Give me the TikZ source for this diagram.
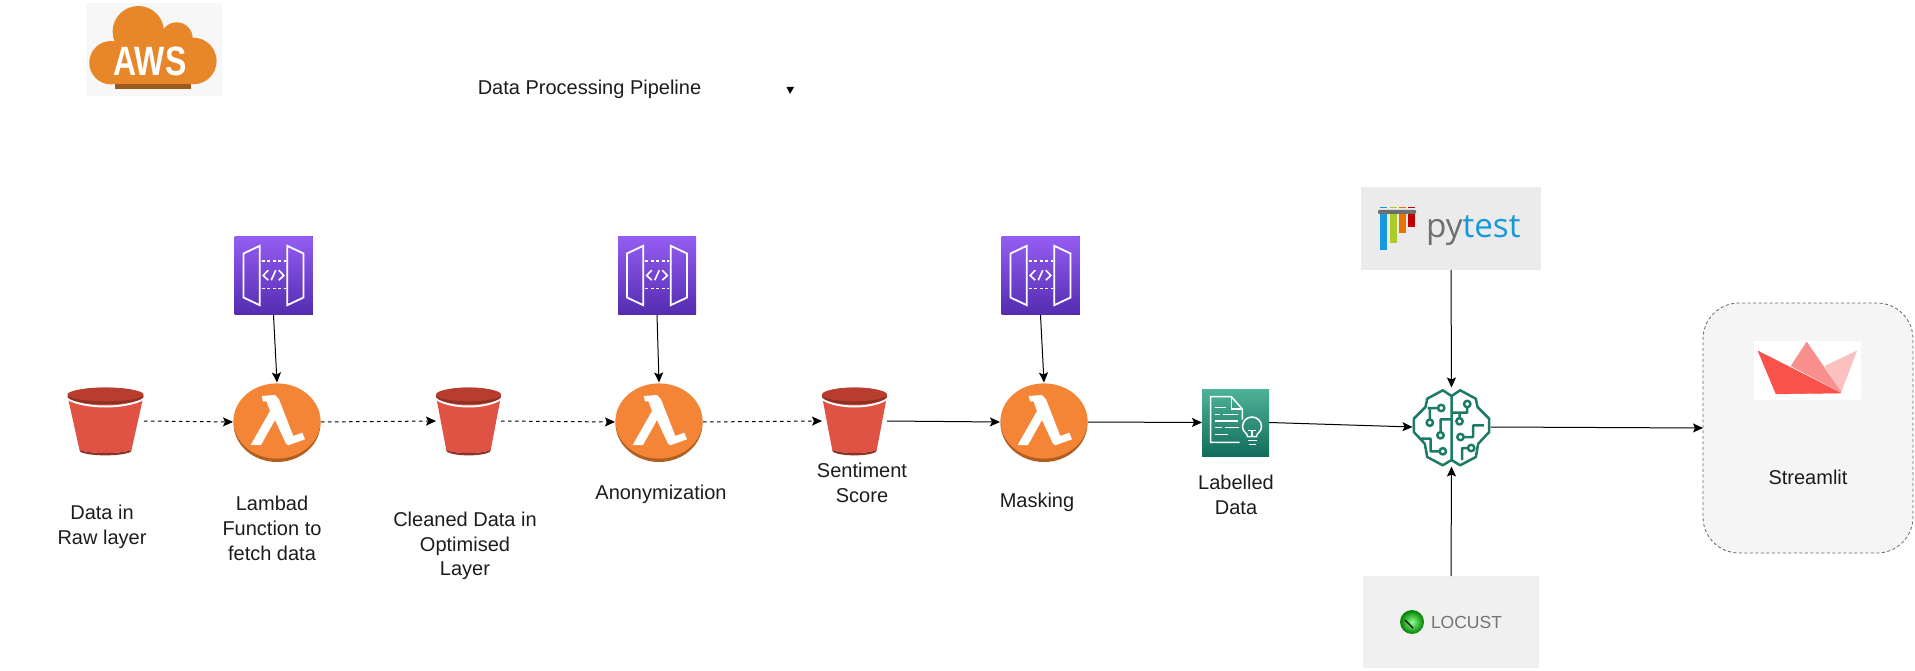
\documentclass[tikz,border=0pt]{standalone}
\usepackage{fontspec}
\setmainfont{Liberation Sans}
\newfontfamily\logofont{Open Sans}
\usetikzlibrary{arrows.meta}

\definecolor{inkgray}{HTML}{1C1C1C}
\definecolor{awsorange}{HTML}{E8862A}
\definecolor{awsbrown}{HTML}{9C5A1C}
\definecolor{bucketred}{HTML}{E05243}
\definecolor{bucketdark}{HTML}{8C3123}
\definecolor{buckettop}{HTML}{B83D2F}
\definecolor{lambdaorange}{HTML}{F58536}
\definecolor{lambdadark}{HTML}{B05F20}
\definecolor{mlgreen}{HTML}{1B7B67}
\definecolor{pyblue}{HTML}{149ADC}
\definecolor{pygray}{HTML}{6F6F6F}

\tikzset{
	labeltext/.style={font=\fontsize{20}{24.8}\selectfont, align=center, text=inkgray, inner sep=0pt},
	bucketbox/.style={inner sep=0pt, outer sep=0pt, minimum width=#1, minimum height=67pt},
	lambdabox/.style={inner sep=0pt, outer sep=0pt, minimum width=88pt, minimum height=79pt},
	apibox/.style={inner sep=0pt, outer sep=0pt, minimum width=79pt, minimum height=79pt},
	solidflow/.style={->, line width=1pt, black},
	dashflow/.style={->, line width=1pt, black, dash pattern=on 3.5pt off 3.5pt},
	% S3 bucket
	bucketicon/.pic={
		\fill[bucketred] (-38,-25) -- (-26,29) .. controls (-15,33) and (15,33) .. (26,29) -- (38,-25) -- cycle;
		\fill[bucketdark] (-26,29) .. controls (-15,33) and (15,33) .. (26,29) -- (25,31) .. controls (15,35.5) and (-15,35.5) .. (-25,31) -- cycle;
		\draw[white, line width=2pt] (-38,-22) .. controls (-20,-12) and (20,-12) .. (38,-22);
		\fill[bucketdark] (0,-25) ellipse (38 and 8.5);
		\fill[buckettop] (0,-26.5) ellipse (38 and 6.8);
	},
	% lambda disc
	lambdaicon/.pic={
		\fill[lambdadark] (0,1.2) ellipse (43.5 and 38.8);
		\fill[lambdaorange] (0,-1) ellipse (43.5 and 37.6);
		\fill[white] (-15.3,-26) -- (-2,-27) -- (2,-22.7) -- (16.3,14) -- (25.3,10.7) -- (28,17.3) -- (11.3,23.3) -- (9,21.7)
			-- (-2,-2) -- (-16,23) -- (-26.3,23) -- (-7,-11) -- (-10.5,-20.7) -- (-14,-20.7) -- cycle;
	},
	% api gateway square
	apiicon/.pic={
		\fill[top color={rgb,255:red,148;green,93;blue,242}, bottom color={rgb,255:red,84;green,44;blue,176}] (-39,-39) rectangle (39,39);
		\draw[white, line width=1.8pt] (-30,-22) -- (-13.7,-29.7) -- (-13.7,29.7) -- (-30,22) -- cycle;
		\draw[white, line width=1.8pt] (30,-22) -- (13.7,-29.7) -- (13.7,29.7) -- (30,22) -- cycle;
		\draw[white, line width=1.8pt, dash pattern=on 3pt off 2.5pt] (-12,-14.3) -- (12,-14.3);
		\draw[white, line width=1.8pt, dash pattern=on 3pt off 2.5pt] (-12,13) -- (12,13);
		\draw[white, line width=1.6pt] (-5.3,-5.3) -- (-10.3,0) -- (-5.3,4.7);
		\draw[white, line width=1.6pt] (5.3,-5.3) -- (10.3,0) -- (5.3,4.7);
		\draw[white, line width=1.6pt] (-2.3,4.7) -- (2.3,-5.3);
	},
}

\begin{document}
\begin{tikzpicture}[x=1pt, y=-1pt, >={Stealth[length=10pt, width=9pt, inset=2pt]}]
	\useasboundingbox (0,0) rectangle (1915,671);

	% AWS logo
	\fill[black!3] (86,3) rectangle (222,96);
	\fill[awsorange] (111,62.7) circle (21.7);
	\fill[awsorange] (138.3,31.7) circle (25.7);
	\fill[awsorange] (176.7,38.3) circle (16);
	\fill[awsorange] (193.3,61) circle (23.3);
	\fill[awsorange] (122,40) rectangle (178,84.3);
	\fill[awsorange] (110,62.7) rectangle (193.3,84.3);
	\fill[awsbrown] (115,84.3) rectangle (191,89);
	\node[font=\bfseries\fontsize{41}{41}\selectfont, text=white, xscale=0.78, inner sep=0pt] (awslogo) at (150,61) {AWS};

	% title
	\node[labeltext] (titlelabel) at (589.5,89) {Data Processing Pipeline};
	\fill[black] (786.5,87) -- (794,87) -- (790,94) -- cycle;

	% icon boxes, the connectors end on them
	\node[bucketbox=77pt] (bucketA) at (105.5,421) {};
	\node[bucketbox=65pt] (bucketB) at (468.5,421) {};
	\node[bucketbox=65pt] (bucketC) at (854.5,421) {};
	\node[lambdabox] (lambdaA) at (277,422) {};
	\node[lambdabox] (lambdaB) at (659,422) {};
	\node[lambdabox] (lambdaC) at (1044,422) {};
	\node[apibox] (apiA) at (273.5,275.5) {};
	\node[apibox] (apiB) at (657,275.5) {};
	\node[apibox] (apiC) at (1040.5,275.5) {};
	\node[inner sep=0pt, outer sep=0pt, minimum width=67pt, minimum height=67pt] (labelled) at (1235.5,422.5) {};
	\node[inner sep=0pt, outer sep=0pt, minimum width=78pt, minimum height=79pt] (brain) at (1451.5,427) {};

	% S3 buckets
	\pic at (bucketA) {bucketicon};
	\pic[xscale=0.855] at (bucketB) {bucketicon};
	\pic[xscale=0.855] at (bucketC) {bucketicon};

	% lambdas
	\pic at (lambdaA) {lambdaicon};
	\pic at (lambdaB) {lambdaicon};
	\pic at (lambdaC) {lambdaicon};

	% gateways
	\pic at (apiA) {apiicon};
	\pic at (apiB) {apiicon};
	\pic at (apiC) {apiicon};

	% labelled data icon
	\begin{scope}[shift={(1235.5,422.5)}]
		\fill[top color={rgb,255:red,78;green,178;blue,152}, bottom color={rgb,255:red,17;green,109;blue,91}] (-33.5,-33.5) rectangle (33.5,33.5);
		\draw[white, line width=1.5pt] (4,19.8) -- (-24.8,19.8) -- (-24.8,-25.8) -- (-4.2,-25.8) -- (6.8,-13.5) -- (6.8,-3);
		\draw[white, line width=1.5pt] (-4.2,-25.8) -- (-4.2,-13.5) -- (6.8,-13.5);
		\draw[white, line width=1.5pt] (-21,-15) -- (-10,-15);
		\draw[white, line width=1.5pt] (-21,-8) -- (-16,-8) (-13,-8) -- (2,-8);
		\draw[white, line width=1.5pt] (-21,-1.5) -- (2,-1.5);
		\draw[white, line width=1.5pt] (-21,5) -- (-14,5) (-11,5) -- (3,5);
		\draw[white, line width=1.5pt] (-21,12) -- (-8,12);
		\draw[white, line width=1.5pt] (12,14) .. controls (12,10) and (7,10) .. (7,4) arc[start angle=180, end angle=360, radius=9.5] .. controls (26,10) and (21,10) .. (21,14) -- cycle;
		\draw[white, line width=1.3pt] (12.5,8) -- (20.5,8) (16.5,8) -- (16.5,14);
		\draw[white, line width=1.5pt] (12,18) -- (21,18) (13,22) -- (20,22);
	\end{scope}

	% brain icon
	\begin{scope}[shift={(1451.5,428)}, draw=mlgreen, line width=2.5pt, line join=round]
		\draw (0,-32) -- (-8.7,-37.7) -- (-24.3,-29.3) -- (-26,-21) -- (-37.7,-9.3) -- (-37.7,4) -- (-26.7,15.7) -- (-24.3,29) -- (-8.7,37.3) -- (0,32) -- cycle;
		\draw (0,-32) -- (8.7,-37.7) -- (24.3,-29.3) -- (26,-21) -- (37.7,-9.3) -- (37.7,4) -- (26.7,15.7) -- (24.3,29) -- (8.7,37.3) -- (0,32);
		\draw (-10.3,-20) circle (3.2) (-13.5,-20) -- (-24,-20);
		\draw (-21.7,-5.3) circle (3.2) (-21.7,-8.5) -- (-21.7,-20);
		\draw (-11,7.3) circle (3.2) (-11,4) -- (-11,-8.7) -- (0,-8.7);
		\draw (-8.7,23.3) circle (3.2) (-12,23.3) -- (-21,23.3) -- (-21,10.7) -- (-31,10.7);
		\draw (15.7,-24) circle (3.2) (15.7,-21) -- (15.7,-15.3) -- (0,-15.3);
		\draw (8,-6.7) circle (3.2) (8,-10) -- (8,-15.3);
		\draw (9,9) circle (3.2) (12.3,9) -- (21.7,9) -- (21.7,-2.7) -- (32.3,-2.7);
		\draw (19.7,20) circle (3.2) (16.5,20) -- (10.7,20) -- (10.7,32);
	\end{scope}

	% pytest logo
	\fill[black!8] (1361,187) rectangle (1541,270);
	\fill[pyblue] (1380,213) rectangle (1387,250);
	\fill[yellow!70!green!90!black] (1389.5,213) rectangle (1397,243);
	\fill[orange!90!black] (1398.5,213) rectangle (1405.5,233.5);
	\fill[red!75!black] (1407.5,213) rectangle (1414.5,227);
	\fill[pygray, rounded corners=1pt] (1378,210) rectangle (1416,213.8);
	\fill[pyblue] (1380,207) rectangle (1387,208.5);
	\fill[yellow!70!green!90!black] (1389.5,207) rectangle (1397,208.5);
	\fill[orange!90!black] (1398.5,207) rectangle (1405.5,208.5);
	\fill[red!75!black] (1407.5,207) rectangle (1414.5,208.5);
	\node[anchor=base west, inner sep=0pt, outer sep=0pt, font=\logofont\fontsize{33.3}{33.3}\selectfont] (pytestlabel) at (1426,238) {\textcolor{pygray}{py}\textcolor{pyblue}{test}};
	\node[inner sep=0pt, outer sep=0pt, minimum width=180pt, minimum height=83pt] (pytestbox) at (1451,228.5) {};

	% locust logo
	\fill[black!6] (1363,576) rectangle (1539,668);
	\shade[inner color=green!45!white, outer color=green!50!black] (1412,622) circle (12);
	\draw[black, line width=1.2pt] (1405,620) -- (1413,628);
	\node[anchor=base west, inner sep=0pt, outer sep=0pt, text=black!55, font=\fontsize{17.5}{17.5}\selectfont] (locustlabel) at (1431,628) {LOCUST};
	\node[inner sep=0pt, outer sep=0pt, minimum width=176pt, minimum height=92pt] (locustbox) at (1451,622) {};

	% streamlit box
	\node[draw=black!60, fill=black!4, dash pattern=on 3pt off 2.5pt, line width=0.8pt, rounded corners=36pt, inner sep=0pt, outer sep=0pt, minimum width=210pt, minimum height=250pt] (streamlitbox) at (1808,428) {};
	\fill[white] (1754,341) rectangle (1861,400);
	\filldraw[draw={rgb,255:red,252;green,193;blue,191}, fill={rgb,255:red,252;green,193;blue,191}, line join=round] (1825,366) -- (1856.7,351) -- (1841,392) -- cycle;
	\filldraw[draw={rgb,255:red,249;green,143;blue,140}, fill={rgb,255:red,249;green,143;blue,140}, line join=round] (1791,366) -- (1806.7,342) -- (1841,392) -- cycle;
	\filldraw[draw={rgb,255:red,248;green,82;blue,74}, fill={rgb,255:red,248;green,82;blue,74}, line join=round] (1758,351) -- (1841,393) -- (1776,394) -- cycle;
	\node[labeltext] (streamlitlabel) at (1808,477) {Streamlit};

	% labels
	\node[labeltext] (rawlabel) at (102,527) {Data in\\Raw layer};
	\node[labeltext] (fetchlabel) at (272,528.5) {Lambad\\Function to\\fetch data};
	\node[labeltext] (cleanedlabel) at (465,546) {Cleaned Data in\\Optimised\\Layer};
	\node[labeltext] (anonlabel) at (661,494) {Anonymization};
	\node[labeltext] (sentimentlabel) at (862,483) {Sentiment\\Score};
	\node[labeltext] (maskinglabel) at (1037,502) {Masking};
	\node[labeltext] (labelledlabel) at (1236,495) {Labelled\\Data};

	% gateways into lambdas
	\draw[solidflow] (apiA.south) -- (lambdaA.north);
	\draw[solidflow] (apiB.south) -- (lambdaB.north);
	\draw[solidflow] (apiC.south) -- (lambdaC.north);

	% pipeline
	\draw[dashflow] (bucketA.east) -- (lambdaA.west);
	\draw[dashflow] (lambdaA.east) -- (bucketB.west);
	\draw[dashflow] (bucketB.east) -- (lambdaB.west);
	\draw[dashflow] (lambdaB.east) -- (bucketC.west);
	\draw[solidflow] (bucketC.east) -- (lambdaC.west);
	\draw[solidflow] (lambdaC.east) -- (labelled.west);
	\draw[solidflow] (labelled.east) -- (brain.west);
	\draw[solidflow] (brain.east) -- (streamlitbox.west);

	% tests into the model
	\draw[solidflow] (pytestbox.south) -- (brain.north);
	\draw[solidflow] (locustbox.north) -- (brain.south);
\end{tikzpicture}
\end{document}
